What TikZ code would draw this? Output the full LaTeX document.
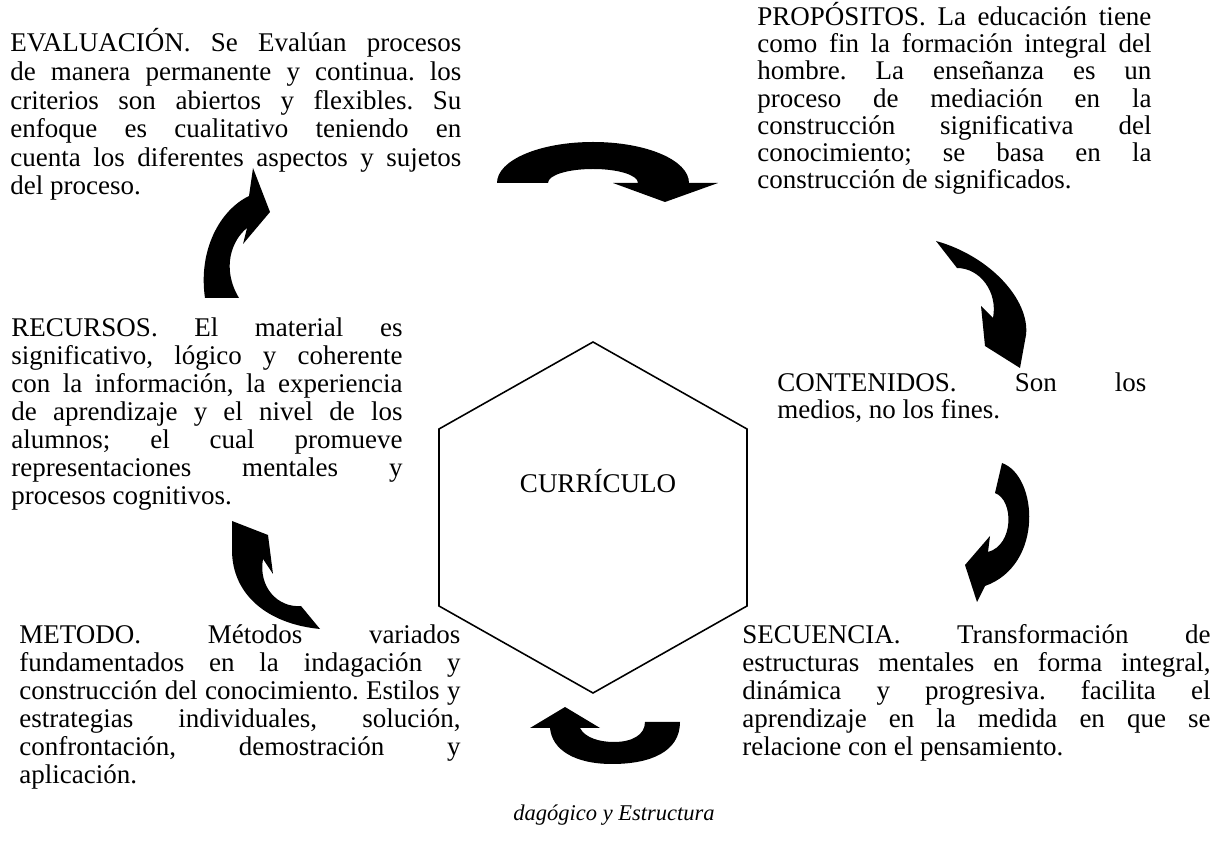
\documentclass[tikz,border=0pt]{standalone}
\usepackage{fontspec}
\setmainfont{Liberation Serif}
\hyphenpenalty=10000
\exhyphenpenalty=10000
\begin{document}
\begin{tikzpicture}[x=0.4444pt,y=-0.4444pt,
    blok/.style={anchor=base west, inner sep=0pt, align=justify,
      font={\fontsize{12}{#1}\selectfont\frenchspacing\lineskiplimit=-100pt}},
    blok/.default=12.44pt]
            \useasboundingbox (0,0) rectangle (1220,853);
            \node[blok=12.7pt, text width=200.4pt] (evaluacion) at (10,52) {EVALUACIÓN. Se Evalúan procesos\linebreak de manera permanente y continua. los\linebreak criterios son abiertos y flexibles. Su\linebreak enfoque es cualitativo teniendo en\linebreak cuenta los diferentes aspectos y sujetos\linebreak del proceso.};
            \node[blok=12pt, text width=175.1pt] (propositos) at (757,26) {PROPÓSITOS. La educación tiene\linebreak como fin la formación integral del\linebreak hombre. La enseñanza es un\linebreak proceso de mediación en la\linebreak construcción significativa del\linebreak conocimiento; se basa en la\linebreak construcción de significados.};
            \node[blok=11.6pt, text width=164pt] (contenidos) at (777,392) {CONTENIDOS. Son los\linebreak medios, no los fines.};
            \node[blok, text width=173.8pt] (recursos) at (11,337) {RECURSOS. El material es\linebreak significativo, lógico y coherente\linebreak con la información, la experiencia\linebreak de aprendizaje y el nivel de los\linebreak alumnos; el cual promueve\linebreak representaciones mentales y\linebreak procesos cognitivos.};
            \node[blok, text width=196pt] (metodo) at (19,644) {METODO. Métodos variados\linebreak fundamentados en la indagación y\linebreak construcción del conocimiento. Estilos y\linebreak estrategias individuales, solución,\linebreak confrontación, demostración y\linebreak aplicación.};
            \node[blok, text width=208pt] (secuencia) at (742,644) {SECUENCIA. Transformación de\linebreak estructuras mentales en forma integral,\linebreak dinámica y progresiva. facilita el\linebreak aprendizaje en la medida en que se\linebreak relacione con el pensamiento.};
            \draw[line width=0.7pt] (593,342) -- (747,429) -- (747,606) -- (593,693) -- (439,606) -- (439,429) -- cycle;
            \node[anchor=base, inner sep=0pt, font=\fontsize{12}{12}\selectfont] (curriculo) at (598,493) {CURRÍCULO};
            \node[anchor=base, inner sep=0pt, font=\fontsize{10}{10}\selectfont\itshape] (pie) at (614,820) {dagógico y Estructura};
            \fill (497,183) .. controls (497,160) and (540,142) .. (593,142) .. controls (646,142) and (689,160) .. (689,183) -- (718,183) -- (665,202) -- (613,183) -- (638,183) .. controls (638,175) and (618,169) .. (593,169) .. controls (568,169) and (548,175) .. (548,183) -- cycle;
            \fill (936,241) .. controls (990,256) and (1030,300) .. (1026,335) -- (1020,368) -- (985,346) -- (981,306) -- (993,318) .. controls (998,292) and (980,268) .. (957,268) -- cycle;
            \fill (1002,463) .. controls (1038,476) and (1044,565) .. (985,586) -- (977,602) -- (965,565) -- (990,536) -- (988,552) .. controls (1014,545) and (1014,500) .. (995,493) -- cycle;
            \fill (680,722) .. controls (680,752) and (650,764) .. (612,764) .. controls (575,764) and (552,750) .. (550,728) -- (530,728) -- (565,707) -- (600,728) -- (580,728) .. controls (585,738) and (600,742) .. (614,742) .. controls (632,742) and (645,735) .. (645,722) -- cycle;
            \fill (320,629) .. controls (268,624) and (232,595) .. (232,550) -- (232,521) -- (268,535) -- (273,574) -- (263,559) .. controls (258,587) and (278,608) .. (301,606) -- cycle;
            \fill (205,298) .. controls (198,250) and (220,210) .. (249,196) -- (253,168) -- (270,212) -- (243,244) -- (247,228) .. controls (232,240) and (221,268) .. (239,298) -- cycle;
        \end{tikzpicture}
\end{document}
